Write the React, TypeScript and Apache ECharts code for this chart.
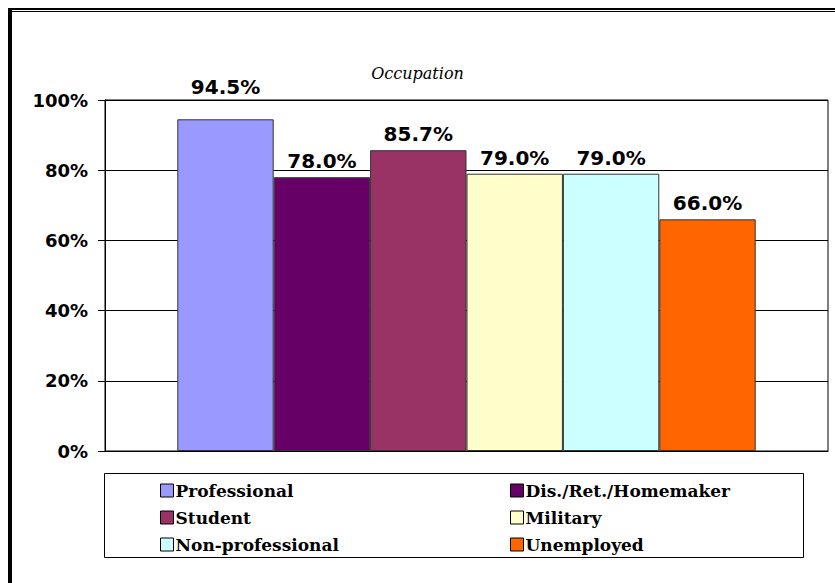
import React, { useEffect, useRef } from "react";
import * as echarts from "echarts";

const categories = ["Occupation"];
const seriesNames = [
  "Professional",
  "Dis./Ret./Homemaker",
  "Student",
  "Military",
  "Non-professional",
  "Unemployed",
];
const seriesValues = [94.5, 78.0, 85.7, 79.0, 79.0, 66.0];
const seriesColors = ["#9999FF", "#660066", "#993366", "#FFFFCC", "#CCFFFF", "#FF6600"];
const yTicks = [0, 20, 40, 60, 80, 100];
const leftLegend = ["Professional", "Student", "Non-professional"];
const rightLegend = ["Dis./Ret./Homemaker", "Military", "Unemployed"];

const SERIF = "DejaVu Serif";
const SANS = "DejaVu Sans";

export default function App() {
  const ref = useRef<HTMLDivElement>(null);
  useEffect(() => {
    if (!ref.current) return;
    const chart = echarts.init(ref.current, null, { renderer: "svg" });
    const legendCommon = {
      orient: "vertical" as const,
      itemWidth: 13,
      itemHeight: 13,
      itemGap: 10,
      icon: "rect",
      textStyle: {
        fontFamily: SERIF,
        fontWeight: "bold" as const,
        fontSize: 17,
        color: "#000",
        padding: [0, 0, 0, -3],
      },
      itemStyle: { borderColor: "#000", borderWidth: 1 },
      top: 477,
    };
    chart.setOption({
      animation: false,
      backgroundColor: "#fff",
      title: {
        text: "Occupation",
        left: "center",
        top: 60,
        textStyle: {
          fontFamily: SERIF,
          fontStyle: "italic",
          fontWeight: "normal",
          fontSize: 16,
          color: "#000",
        },
      },
      legend: [
        { ...legendCommon, data: leftLegend, left: 155 },
        { ...legendCommon, data: rightLegend, left: 505 },
      ],
      grid: {
        left: 105,
        top: 100,
        right: 7,
        bottom: 132,
        show: true,
        borderColor: "#000",
        borderWidth: 1,
        backgroundColor: "#fff",
      },
      xAxis: {
        type: "category",
        data: categories,
        axisLine: { lineStyle: { color: "#000", width: 1 } },
        axisTick: { show: false },
        axisLabel: { show: false },
      },
      yAxis: {
        type: "value",
        min: yTicks[0],
        max: yTicks[yTicks.length - 1],
        interval: 20,
        axisLine: { show: true, lineStyle: { color: "#000", width: 1 } },
        axisTick: { show: true, length: 7, lineStyle: { color: "#000" } },
        splitLine: { lineStyle: { color: "#000", width: 1 } },
        axisLabel: {
          formatter: "{value}%",
          margin: 17,
          fontFamily: SANS,
          fontWeight: "bold",
          fontSize: 18,
          color: "#000",
        },
      },
      series: seriesNames.map((name, i) => ({
        name,
        type: "bar",
        data: [seriesValues[i]],
        barGap: "0%",
        barCategoryGap: "20%",
        itemStyle: { color: seriesColors[i], borderColor: "#333", borderWidth: 1 },
        label: {
          show: true,
          position: "top",
          distance: i === 0 ? 22 : 6,
          formatter: (p: any) => p.value.toFixed(1) + "%",
          fontFamily: SANS,
          fontWeight: "bold",
          fontSize: 20,
          color: "#000",
        },
      })),
      graphic: [
        {
          type: "rect",
          shape: { x: 104.5, y: 473.5, width: 699, height: 84 },
          style: { fill: "none", stroke: "#000", lineWidth: 1 },
          z: 10,
        },
        {
          type: "rect",
          shape: { x: 8, y: 8, width: 827, height: 2 },
          style: { fill: "#000" },
        },
        {
          type: "rect",
          shape: { x: 8, y: 11, width: 827, height: 1 },
          style: { fill: "#000" },
        },
        {
          type: "rect",
          shape: { x: 8, y: 8, width: 4, height: 575 },
          style: { fill: "#000" },
        },
      ],
    });
    return () => chart.dispose();
  }, []);
  return (
    <div
      ref={ref}
      style={{ position: "fixed", left: 0, top: 0, width: 835, height: 583, background: "#fff" }}
    />
  );
}
